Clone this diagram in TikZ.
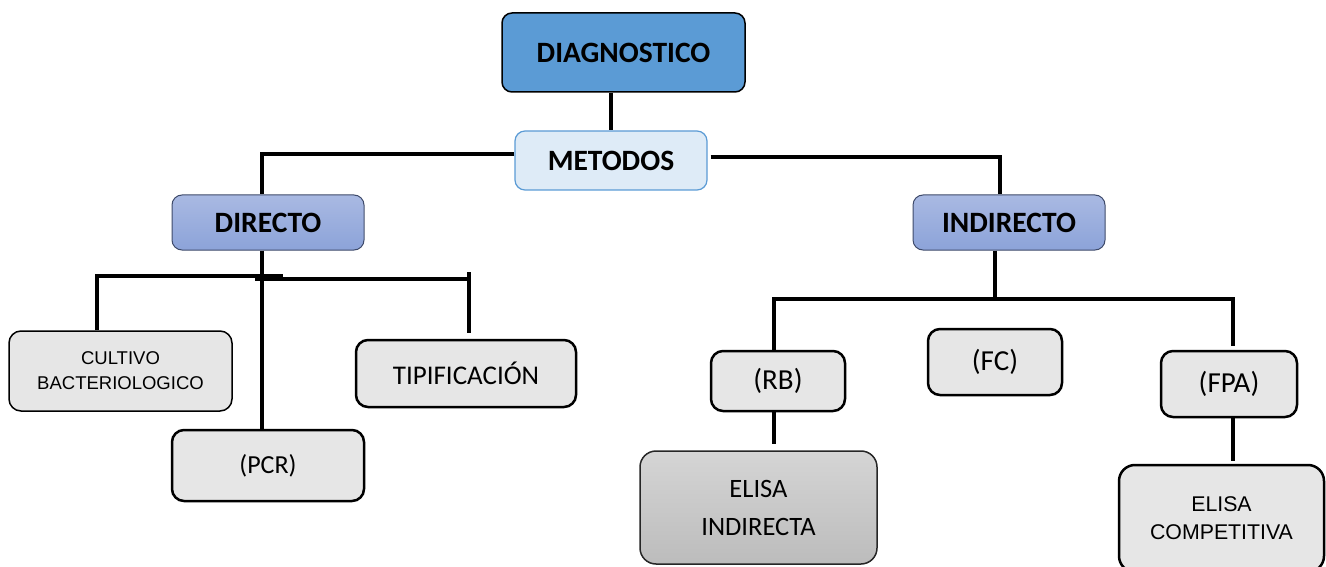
\documentclass[tikz,border=0pt]{standalone}
\usepackage{fontspec}
\setmainfont{Carlito}
\newfontfamily\arialfont{Liberation Sans}
\definecolor{diagblue}{HTML}{5B9BD5}
\definecolor{metfill}{HTML}{DEEBF7}
\definecolor{dirtop}{HTML}{A9B9E2}
\definecolor{dirbot}{HTML}{8CA3D9}
\definecolor{dirline}{HTML}{3E4A6A}
\definecolor{boxgray}{HTML}{E6E6E6}
\definecolor{eitop}{HTML}{D5D5D5}
\definecolor{eibot}{HTML}{BCBCBC}
\tikzset{
  base/.style={rounded corners=10pt, align=center, inner sep=0pt, text=black},
  titlefont/.style={font=\fontsize{29.5}{34}\selectfont\bfseries},
  regfont/.style={font=\fontsize{27}{32}\selectfont},
  parfont/.style={font=\fontsize{29}{34}\selectfont},
  diagbox/.style={base, titlefont, fill=diagblue, draw=black, line width=1.5pt},
  metbox/.style={base, titlefont, fill=metfill, draw=diagblue, line width=1.2pt},
  dirbox/.style={base, titlefont, top color=dirtop, bottom color=dirbot, draw=dirline, line width=1pt},
  graybox/.style={base, regfont, fill=boxgray, draw=black, line width=2.5pt, rounded corners=12pt},
  conn/.style={draw=black, line width=4pt}
}
\begin{document}
\begin{tikzpicture}[x=1pt, y=-1pt]
\useasboundingbox (0,0) rectangle (1326,567);
\begin{scope}
\clip (0,0) rectangle (1326,567);
% nodes
\node[diagbox, minimum width=243pt, minimum height=79pt] (diag) at (623.5,52.5) {DIAGNOSTICO};
\node[metbox, minimum width=192pt, minimum height=59pt] (met) at (611,160.5) {METODOS};
\node[dirbox, minimum width=192pt, minimum height=55pt] (dir) at (268,222.5) {DIRECTO};
\node[dirbox, minimum width=192pt, minimum height=55pt] (ind) at (1009,222.5) {INDIRECTO};
\node[graybox, minimum width=223pt, minimum height=80pt, line width=1.5pt,
      font=\arialfont\fontsize{18.5}{25}\selectfont] (cult) at (120.5,371) {CULTIVO\\BACTERIOLOGICO};
\node[graybox, minimum width=220pt, minimum height=67pt] (tip) at (466,373.5) {TIPIFICACIÓN};
\node[graybox, minimum width=192pt, minimum height=71pt, font=\fontsize{26}{32}\selectfont] (pcr) at (268,465.5) {(PCR)};
\node[graybox, minimum width=134pt, minimum height=60pt, parfont] (rb) at (778,381) {(RB)};
\node[graybox, minimum width=134pt, minimum height=66pt, parfont] (fc) at (995,362) {(FC)};
\node[graybox, minimum width=136pt, minimum height=66pt, parfont] (fpa) at (1229,384) {(FPA)};
\node[base, minimum width=237pt, minimum height=113pt, rounded corners=16pt,
      top color=eitop, bottom color=eibot, draw=black!85, line width=1.5pt,
      font=\fontsize{26.5}{38}\selectfont] (ei) at (758.5,507.5) {ELISA\\INDIRECTA};
\node[graybox, minimum width=205pt, minimum height=107pt, rounded corners=16pt,
      font=\arialfont\fontsize{21.3}{28}\selectfont] (ec) at (1221.5,518.5) {ELISA\\COMPETITIVA};
% junction coordinates
\coordinate (mL) at (262,154);
\coordinate (mR) at (1000,157);
\coordinate (dJ) at (262,277);
\coordinate (dL) at (97,276);
\coordinate (dLe) at (283,276);
\coordinate (dRs) at (255,279);
\coordinate (dR) at (469,279);
\coordinate (dRt) at (469,272);
\coordinate (iJ) at (995,299);
\coordinate (iL) at (774,299);
\coordinate (iR) at (1233,299);
% connectors
\draw[conn] (met.north |- diag.south) -- (met.north);
\draw[conn] (met.west |- mL) -- (mL) -- (mL |- dir.north);
\draw[conn, shorten <=3pt] (met.east |- mR) -- (mR) -- (mR |- ind.north);
\draw[conn] (dJ |- dir.south) -- (dJ |- pcr.north);
\draw[conn] (dL |- cult.north) -- (dL) -- (dLe);
\draw[conn] (dRs) -- (dR);
\draw[conn, shorten >=6pt] (dRt) -- (dRt |- tip.north);
\draw[conn] (iJ |- ind.south) -- (iJ);
\draw[conn] (iL |- rb.north) -- (iL) -- (iR);
\draw[conn, shorten >=4pt] ([yshift=2pt]iR) -- (iR |- fpa.north);
\draw[conn, shorten >=6pt] (iL |- rb.south) -- (iL |- ei.north);
\draw[conn, shorten >=3pt] (iR |- fpa.south) -- (iR |- ec.north);
\end{scope}
\end{tikzpicture}
\end{document}
